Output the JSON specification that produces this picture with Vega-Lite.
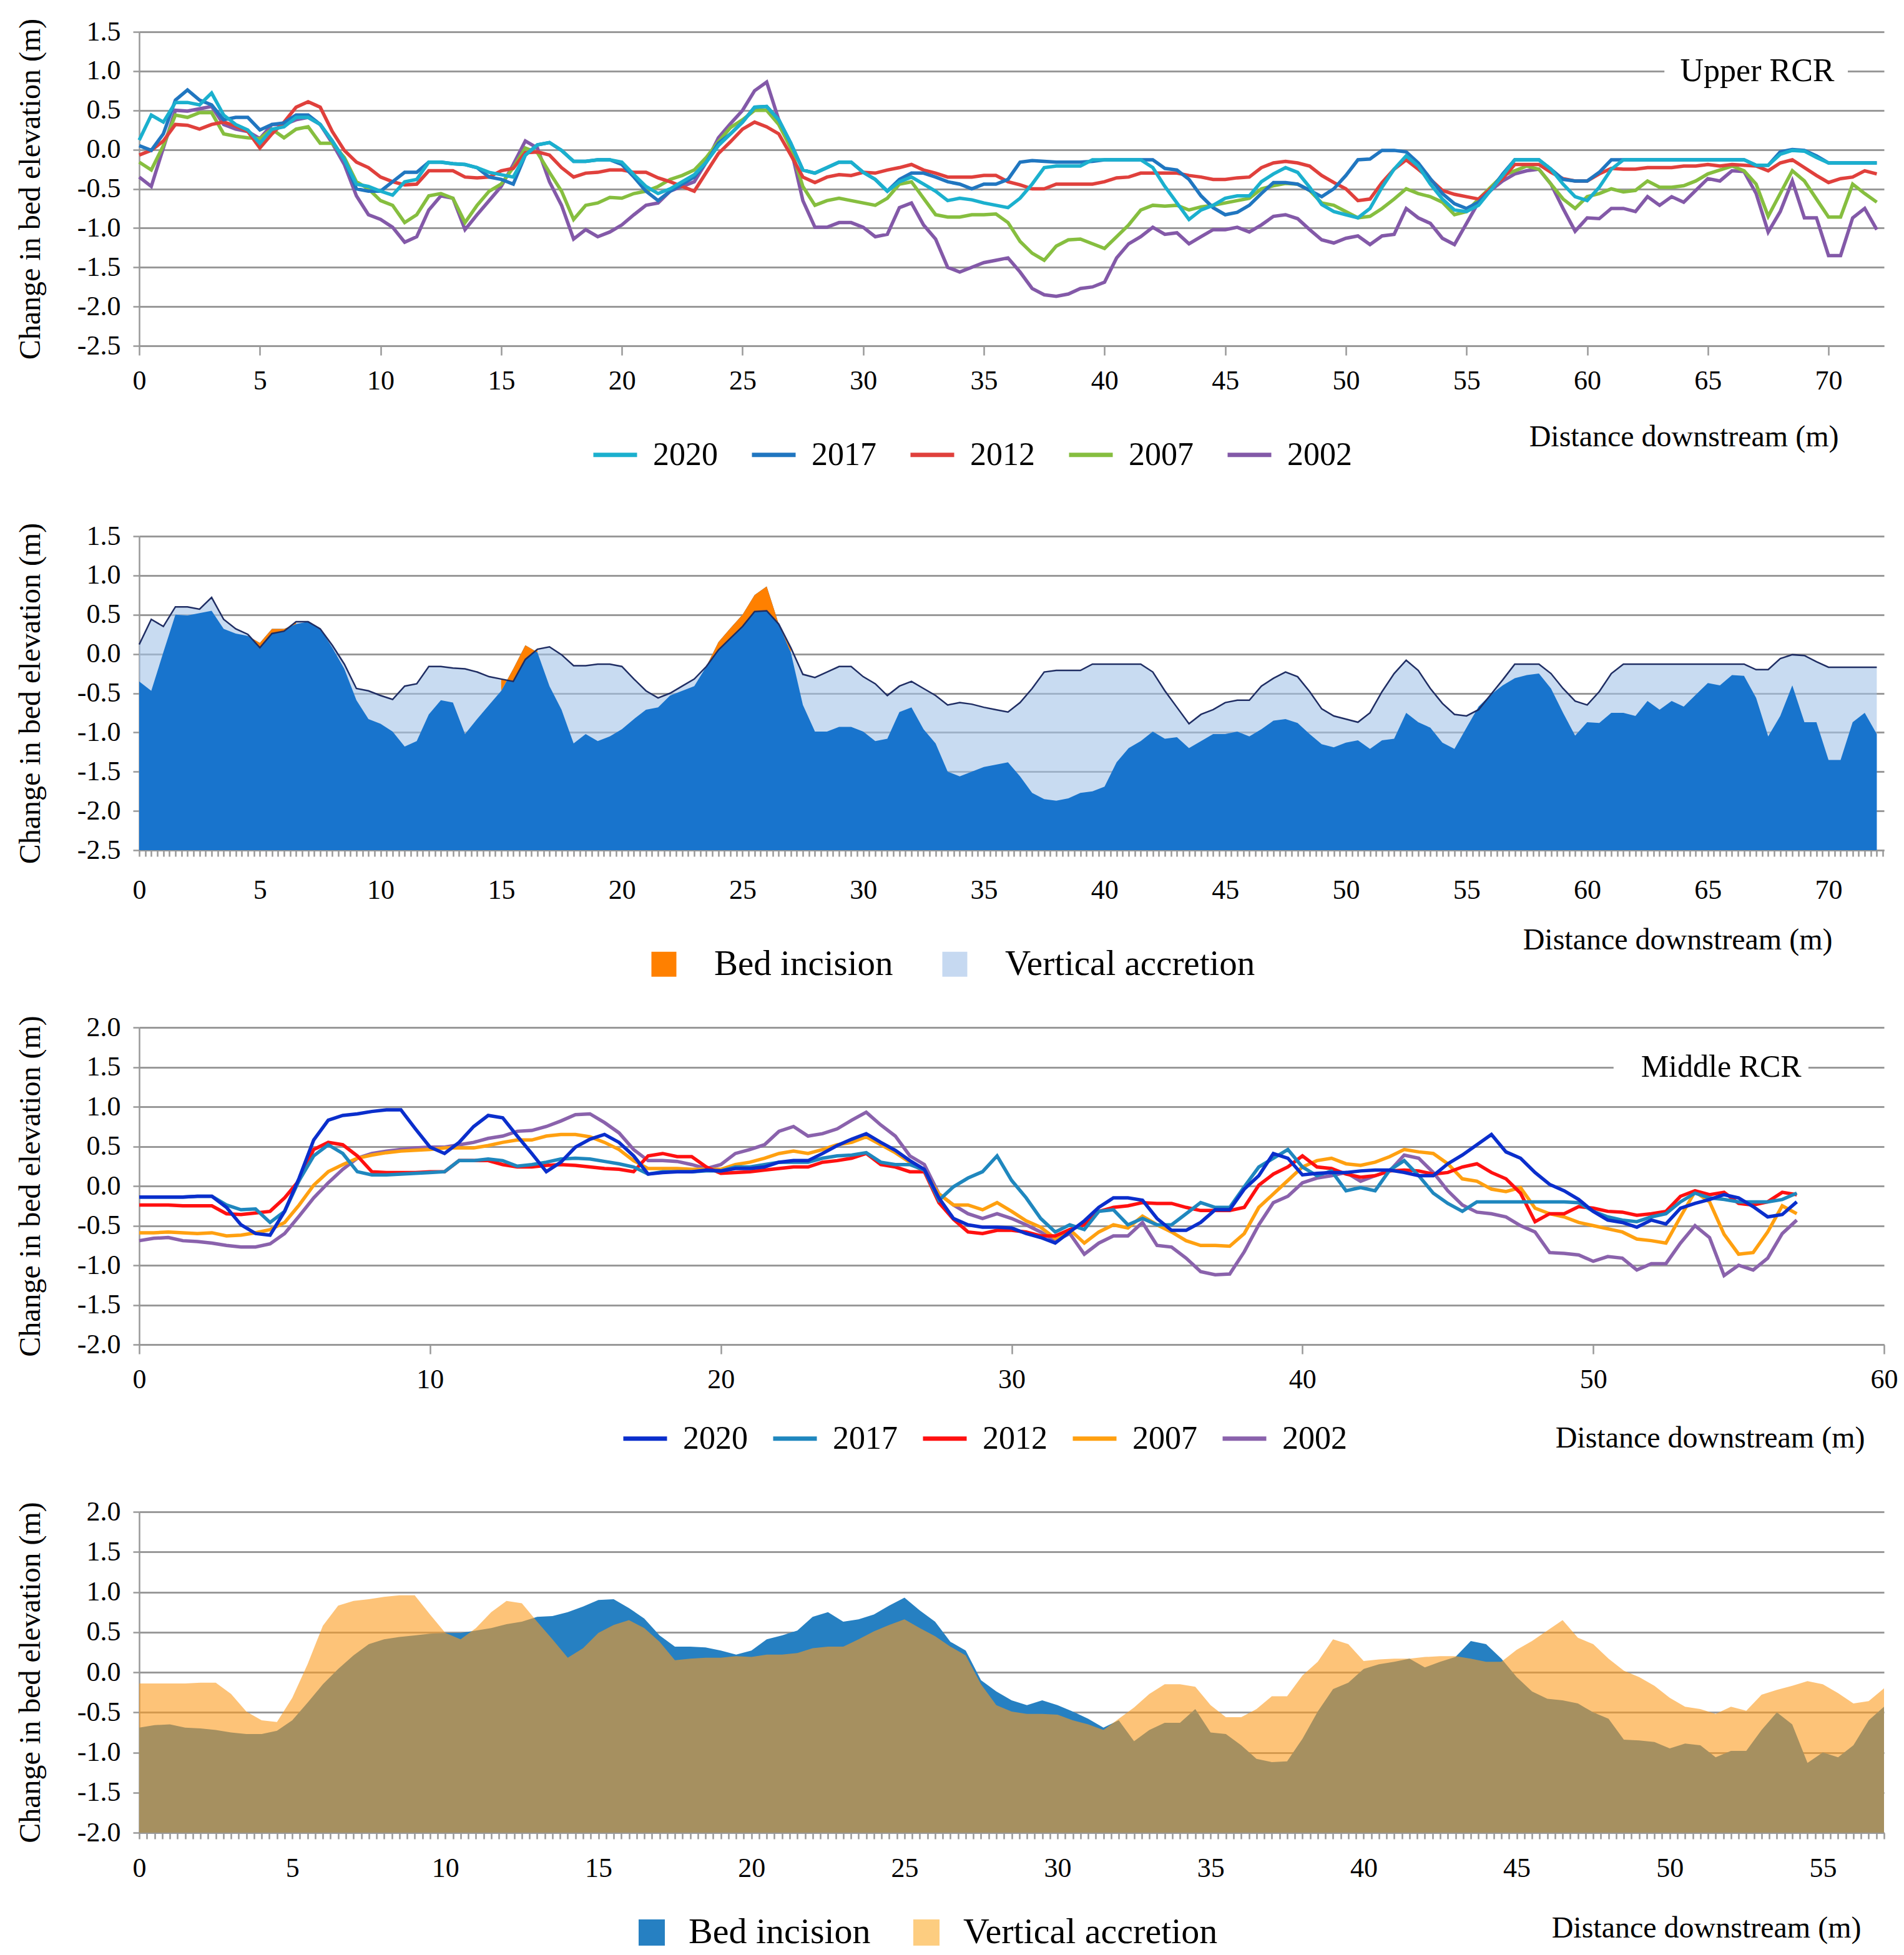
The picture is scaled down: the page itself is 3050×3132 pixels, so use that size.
{
  "$schema": "https://vega.github.io/schema/vega-lite/v6.json",
  "background": "white",
  "padding": {"left": 25, "top": 29, "right": 10, "bottom": 10},
  "config": {
    "font": "Liberation Serif",
    "view": {"stroke": null},
    "text": {"font": "Liberation Serif"},
    "axis": {
      "labelFont": "Liberation Serif", "titleFont": "Liberation Serif",
      "labelFontSize": 44, "titleFontSize": 48, "titleFontWeight": "normal",
      "labelColor": "black", "titleColor": "black",
      "domainColor": "#999999", "domainWidth": 2.5,
      "tickColor": "#999999", "tickWidth": 2.5,
      "gridColor": "#999999", "gridWidth": 3
    },
    "axisX": {"labelFont": "Liberation Serif", "titleFont": "Liberation Serif"},
    "axisY": {"labelFont": "Liberation Serif", "titleFont": "Liberation Serif"},
    "legend": {"labelFont": "Liberation Serif", "titleFont": "Liberation Serif", "labelColor": "black", "labelLimit": 1000}
  },
  "resolve": {"scale": {"color": "independent"}, "legend": {"color": "independent"}},
  "datasets": {
    "upper": [
      {"x":0,"2020":0.12,"2017":0.05,"2012":-0.07,"2007":-0.16,"2002":-0.35},
      {"x":0.5,"2020":0.44,"2017":-0.01,"2012":-0.01,"2007":-0.26,"2002":-0.47},
      {"x":1,"2020":0.35,"2017":0.2,"2012":0.11,"2007":0.05,"2002":0.02},
      {"x":1.5,"2020":0.6,"2017":0.63,"2012":0.32,"2007":0.44,"2002":0.5},
      {"x":2,"2020":0.6,"2017":0.76,"2012":0.31,"2007":0.41,"2002":0.49},
      {"x":2.5,"2020":0.57,"2017":0.63,"2012":0.26,"2007":0.47,"2002":0.52},
      {"x":3,"2020":0.72,"2017":0.57,"2012":0.32,"2007":0.47,"2002":0.55},
      {"x":3.5,"2020":0.44,"2017":0.38,"2012":0.35,"2007":0.2,"2002":0.32},
      {"x":4,"2020":0.32,"2017":0.41,"2012":0.3,"2007":0.17,"2002":0.26},
      {"x":4.5,"2020":0.25,"2017":0.41,"2012":0.23,"2007":0.15,"2002":0.23},
      {"x":5,"2020":0.08,"2017":0.25,"2012":0.02,"2007":0.14,"2002":0.14},
      {"x":5.5,"2020":0.26,"2017":0.32,"2012":0.2,"2007":0.26,"2002":0.32},
      {"x":6,"2020":0.29,"2017":0.34,"2012":0.35,"2007":0.15,"2002":0.32},
      {"x":6.5,"2020":0.41,"2017":0.44,"2012":0.54,"2007":0.26,"2002":0.38},
      {"x":7,"2020":0.41,"2017":0.44,"2012":0.61,"2007":0.29,"2002":0.41},
      {"x":7.5,"2020":0.32,"2017":0.32,"2012":0.54,"2007":0.08,"2002":0.32},
      {"x":8,"2020":0.11,"2017":0.11,"2012":0.23,"2007":0.08,"2002":0.08},
      {"x":8.5,"2020":-0.13,"2017":-0.13,"2012":-0.01,"2007":-0.1,"2002":-0.19},
      {"x":9,"2020":-0.44,"2017":-0.5,"2012":-0.16,"2007":-0.41,"2002":-0.59},
      {"x":9.5,"2020":-0.47,"2017":-0.53,"2012":-0.23,"2007":-0.5,"2002":-0.83},
      {"x":10,"2020":-0.53,"2017":-0.53,"2012":-0.35,"2007":-0.65,"2002":-0.89},
      {"x":10.5,"2020":-0.58,"2017":-0.41,"2012":-0.41,"2007":-0.71,"2002":-0.99},
      {"x":11,"2020":-0.41,"2017":-0.29,"2012":-0.45,"2007":-0.93,"2002":-1.18},
      {"x":11.5,"2020":-0.38,"2017":-0.29,"2012":-0.44,"2007":-0.83,"2002":-1.11},
      {"x":12,"2020":-0.16,"2017":-0.16,"2012":-0.27,"2007":-0.59,"2002":-0.77},
      {"x":12.5,"2020":-0.16,"2017":-0.16,"2012":-0.27,"2007":-0.56,"2002":-0.59},
      {"x":13,"2020":-0.18,"2017":-0.18,"2012":-0.27,"2007":-0.62,"2002":-0.62},
      {"x":13.5,"2020":-0.19,"2017":-0.19,"2012":-0.35,"2007":-0.93,"2002":-1.02},
      {"x":14,"2020":-0.23,"2017":-0.23,"2012":-0.36,"2007":-0.71,"2002":-0.83},
      {"x":14.5,"2020":-0.29,"2017":-0.35,"2012":-0.35,"2007":-0.53,"2002":-0.65},
      {"x":15,"2020":-0.32,"2017":-0.38,"2012":-0.27,"2007":-0.44,"2002":-0.47},
      {"x":15.5,"2020":-0.35,"2017":-0.44,"2012":-0.24,"2007":-0.23,"2002":-0.19},
      {"x":16,"2020":-0.07,"2017":-0.07,"2012":-0.04,"2007":0.02,"2002":0.11},
      {"x":16.5,"2020":0.06,"2017":0.06,"2012":-0.03,"2007":-0.04,"2002":0.02},
      {"x":17,"2020":0.09,"2017":0.09,"2012":-0.07,"2007":-0.29,"2002":-0.41},
      {"x":17.5,"2020":-0.01,"2017":-0.01,"2012":-0.23,"2007":-0.53,"2002":-0.71},
      {"x":18,"2020":-0.15,"2017":-0.15,"2012":-0.35,"2007":-0.89,"2002":-1.14},
      {"x":18.5,"2020":-0.15,"2017":-0.15,"2012":-0.3,"2007":-0.71,"2002":-1.02},
      {"x":19,"2020":-0.13,"2017":-0.13,"2012":-0.29,"2007":-0.68,"2002":-1.11},
      {"x":19.5,"2020":-0.13,"2017":-0.13,"2012":-0.26,"2007":-0.61,"2002":-1.05},
      {"x":20,"2020":-0.16,"2017":-0.19,"2012":-0.26,"2007":-0.62,"2002":-0.96},
      {"x":20.5,"2020":-0.32,"2017":-0.35,"2012":-0.29,"2007":-0.56,"2002":-0.83},
      {"x":21,"2020":-0.47,"2017":-0.53,"2012":-0.29,"2007":-0.53,"2002":-0.71},
      {"x":21.5,"2020":-0.56,"2017":-0.65,"2012":-0.36,"2007":-0.47,"2002":-0.68},
      {"x":22,"2020":-0.5,"2017":-0.53,"2012":-0.41,"2007":-0.38,"2002":-0.53},
      {"x":22.5,"2020":-0.41,"2017":-0.44,"2012":-0.47,"2007":-0.33,"2002":-0.47},
      {"x":23,"2020":-0.32,"2017":-0.35,"2012":-0.53,"2007":-0.26,"2002":-0.41},
      {"x":23.5,"2020":-0.16,"2017":-0.16,"2012":-0.29,"2007":-0.1,"2002":-0.16},
      {"x":24,"2020":0.05,"2017":0.08,"2012":-0.05,"2007":0.1,"2002":0.15},
      {"x":24.5,"2020":0.2,"2017":0.2,"2012":0.1,"2007":0.28,"2002":0.33},
      {"x":25,"2020":0.35,"2017":0.35,"2012":0.26,"2007":0.38,"2002":0.5},
      {"x":25.5,"2020":0.54,"2017":0.54,"2012":0.35,"2007":0.5,"2002":0.75},
      {"x":26,"2020":0.55,"2017":0.55,"2012":0.29,"2007":0.5,"2002":0.86},
      {"x":26.5,"2020":0.38,"2017":0.38,"2012":0.2,"2007":0.32,"2002":0.38},
      {"x":27,"2020":0.08,"2017":0.08,"2012":-0.07,"2007":0.02,"2002":0.02},
      {"x":27.5,"2020":-0.26,"2017":-0.26,"2012":-0.35,"2007":-0.47,"2002":-0.65},
      {"x":28,"2020":-0.3,"2017":-0.3,"2012":-0.42,"2007":-0.71,"2002":-0.99},
      {"x":28.5,"2020":-0.23,"2017":-0.23,"2012":-0.35,"2007":-0.65,"2002":-0.99},
      {"x":29,"2020":-0.16,"2017":-0.16,"2012":-0.32,"2007":-0.62,"2002":-0.93},
      {"x":29.5,"2020":-0.16,"2017":-0.16,"2012":-0.33,"2007":-0.65,"2002":-0.93},
      {"x":30,"2020":-0.29,"2017":-0.29,"2012":-0.29,"2007":-0.68,"2002":-0.99},
      {"x":30.5,"2020":-0.38,"2017":-0.38,"2012":-0.3,"2007":-0.71,"2002":-1.11},
      {"x":31,"2020":-0.53,"2017":-0.53,"2012":-0.26,"2007":-0.62,"2002":-1.08},
      {"x":31.5,"2020":-0.41,"2017":-0.38,"2012":-0.23,"2007":-0.44,"2002":-0.74},
      {"x":32,"2020":-0.35,"2017":-0.3,"2012":-0.19,"2007":-0.41,"2002":-0.68},
      {"x":32.5,"2020":-0.44,"2017":-0.3,"2012":-0.26,"2007":-0.62,"2002":-0.96},
      {"x":33,"2020":-0.53,"2017":-0.35,"2012":-0.3,"2007":-0.83,"2002":-1.14},
      {"x":33.5,"2020":-0.65,"2017":-0.41,"2012":-0.35,"2007":-0.86,"2002":-1.5},
      {"x":34,"2020":-0.62,"2017":-0.44,"2012":-0.35,"2007":-0.86,"2002":-1.56},
      {"x":34.5,"2020":-0.64,"2017":-0.5,"2012":-0.35,"2007":-0.83,"2002":-1.5},
      {"x":35,"2020":-0.68,"2017":-0.44,"2012":-0.33,"2007":-0.83,"2002":-1.44},
      {"x":35.5,"2020":-0.71,"2017":-0.44,"2012":-0.33,"2007":-0.82,"2002":-1.41},
      {"x":36,"2020":-0.74,"2017":-0.38,"2012":-0.41,"2007":-0.93,"2002":-1.38},
      {"x":36.5,"2020":-0.62,"2017":-0.16,"2012":-0.45,"2007":-1.17,"2002":-1.56},
      {"x":37,"2020":-0.44,"2017":-0.14,"2012":-0.5,"2007":-1.32,"2002":-1.77},
      {"x":37.5,"2020":-0.23,"2017":-0.15,"2012":-0.5,"2007":-1.41,"2002":-1.85},
      {"x":38,"2020":-0.21,"2017":-0.16,"2012":-0.44,"2007":-1.23,"2002":-1.87},
      {"x":38.5,"2020":-0.21,"2017":-0.16,"2012":-0.44,"2007":-1.15,"2002":-1.84},
      {"x":39,"2020":-0.21,"2017":-0.16,"2012":-0.44,"2007":-1.14,"2002":-1.77},
      {"x":39.5,"2020":-0.13,"2017":-0.15,"2012":-0.44,"2007":-1.2,"2002":-1.75},
      {"x":40,"2020":-0.13,"2017":-0.13,"2012":-0.41,"2007":-1.26,"2002":-1.69},
      {"x":40.5,"2020":-0.13,"2017":-0.13,"2012":-0.36,"2007":-1.11,"2002":-1.38},
      {"x":41,"2020":-0.13,"2017":-0.13,"2012":-0.35,"2007":-0.96,"2002":-1.2},
      {"x":41.5,"2020":-0.13,"2017":-0.13,"2012":-0.3,"2007":-0.77,"2002":-1.11},
      {"x":42,"2020":-0.23,"2017":-0.13,"2012":-0.3,"2007":-0.71,"2002":-0.99},
      {"x":42.5,"2020":-0.47,"2017":-0.24,"2012":-0.3,"2007":-0.72,"2002":-1.08},
      {"x":43,"2020":-0.68,"2017":-0.26,"2012":-0.3,"2007":-0.71,"2002":-1.06},
      {"x":43.5,"2020":-0.89,"2017":-0.38,"2012":-0.33,"2007":-0.77,"2002":-1.2},
      {"x":44,"2020":-0.77,"2017":-0.59,"2012":-0.35,"2007":-0.73,"2002":-1.11},
      {"x":44.5,"2020":-0.71,"2017":-0.74,"2012":-0.38,"2007":-0.71,"2002":-1.02},
      {"x":45,"2020":-0.62,"2017":-0.83,"2012":-0.38,"2007":-0.68,"2002":-1.02},
      {"x":45.5,"2020":-0.59,"2017":-0.8,"2012":-0.36,"2007":-0.65,"2002":-0.99},
      {"x":46,"2020":-0.59,"2017":-0.71,"2012":-0.35,"2007":-0.62,"2002":-1.05},
      {"x":46.5,"2020":-0.41,"2017":-0.56,"2012":-0.23,"2007":-0.5,"2002":-0.96},
      {"x":47,"2020":-0.31,"2017":-0.42,"2012":-0.17,"2007":-0.46,"2002":-0.85},
      {"x":47.5,"2020":-0.23,"2017":-0.42,"2012":-0.15,"2007":-0.43,"2002":-0.83},
      {"x":48,"2020":-0.29,"2017":-0.44,"2012":-0.17,"2007":-0.44,"2002":-0.88},
      {"x":48.5,"2020":-0.48,"2017":-0.52,"2012":-0.21,"2007":-0.52,"2002":-1.02},
      {"x":49,"2020":-0.7,"2017":-0.6,"2012":-0.33,"2007":-0.68,"2002":-1.15},
      {"x":49.5,"2020":-0.79,"2017":-0.5,"2012":-0.42,"2007":-0.71,"2002":-1.19},
      {"x":50,"2020":-0.83,"2017":-0.33,"2012":-0.5,"2007":-0.79,"2002":-1.13},
      {"x":50.5,"2020":-0.87,"2017":-0.13,"2012":-0.65,"2007":-0.87,"2002":-1.1},
      {"x":51,"2020":-0.75,"2017":-0.12,"2012":-0.63,"2007":-0.85,"2002":-1.21},
      {"x":51.5,"2020":-0.48,"2017":-0.01,"2012":-0.42,"2007":-0.75,"2002":-1.1},
      {"x":52,"2020":-0.25,"2017":-0.01,"2012":-0.25,"2007":-0.63,"2002":-1.08},
      {"x":52.5,"2020":-0.08,"2017":-0.03,"2012":-0.13,"2007":-0.5,"2002":-0.75},
      {"x":53,"2020":-0.21,"2017":-0.17,"2012":-0.25,"2007":-0.56,"2002":-0.87},
      {"x":53.5,"2020":-0.44,"2017":-0.37,"2012":-0.38,"2007":-0.6,"2002":-0.94},
      {"x":54,"2020":-0.63,"2017":-0.56,"2012":-0.52,"2007":-0.67,"2002":-1.13},
      {"x":54.5,"2020":-0.77,"2017":-0.69,"2012":-0.57,"2007":-0.83,"2002":-1.21},
      {"x":55,"2020":-0.79,"2017":-0.75,"2012":-0.6,"2007":-0.79,"2002":-0.94},
      {"x":55.5,"2020":-0.71,"2017":-0.67,"2012":-0.63,"2007":-0.63,"2002":-0.67},
      {"x":56,"2020":-0.52,"2017":-0.52,"2012":-0.5,"2007":-0.48,"2002":-0.52},
      {"x":56.5,"2020":-0.33,"2017":-0.31,"2012":-0.37,"2007":-0.33,"2002":-0.4},
      {"x":57,"2020":-0.13,"2017":-0.13,"2012":-0.19,"2007":-0.27,"2002":-0.31},
      {"x":57.5,"2020":-0.13,"2017":-0.13,"2012":-0.19,"2007":-0.21,"2002":-0.27},
      {"x":58,"2020":-0.13,"2017":-0.13,"2012":-0.19,"2007":-0.25,"2002":-0.25},
      {"x":58.5,"2020":-0.25,"2017":-0.25,"2012":-0.29,"2007":-0.44,"2002":-0.44},
      {"x":59,"2020":-0.44,"2017":-0.38,"2012":-0.37,"2007":-0.63,"2002":-0.75},
      {"x":59.5,"2020":-0.6,"2017":-0.4,"2012":-0.4,"2007":-0.75,"2002":-1.04},
      {"x":60,"2020":-0.65,"2017":-0.4,"2012":-0.4,"2007":-0.6,"2002":-0.87},
      {"x":60.5,"2020":-0.48,"2017":-0.29,"2012":-0.31,"2007":-0.56,"2002":-0.88},
      {"x":61,"2020":-0.25,"2017":-0.13,"2012":-0.24,"2007":-0.5,"2002":-0.75},
      {"x":61.5,"2020":-0.13,"2017":-0.13,"2012":-0.25,"2007":-0.54,"2002":-0.75},
      {"x":62,"2020":-0.13,"2017":-0.13,"2012":-0.25,"2007":-0.52,"2002":-0.79},
      {"x":62.5,"2020":-0.13,"2017":-0.13,"2012":-0.23,"2007":-0.4,"2002":-0.6},
      {"x":63,"2020":-0.13,"2017":-0.13,"2012":-0.23,"2007":-0.48,"2002":-0.71},
      {"x":63.5,"2020":-0.13,"2017":-0.13,"2012":-0.23,"2007":-0.48,"2002":-0.6},
      {"x":64,"2020":-0.13,"2017":-0.13,"2012":-0.21,"2007":-0.46,"2002":-0.67},
      {"x":64.5,"2020":-0.13,"2017":-0.13,"2012":-0.21,"2007":-0.4,"2002":-0.52},
      {"x":65,"2020":-0.13,"2017":-0.13,"2012":-0.19,"2007":-0.31,"2002":-0.37},
      {"x":65.5,"2020":-0.13,"2017":-0.13,"2012":-0.21,"2007":-0.26,"2002":-0.4},
      {"x":66,"2020":-0.13,"2017":-0.13,"2012":-0.19,"2007":-0.21,"2002":-0.27},
      {"x":66.5,"2020":-0.13,"2017":-0.13,"2012":-0.2,"2007":-0.27,"2002":-0.28},
      {"x":67,"2020":-0.2,"2017":-0.2,"2012":-0.21,"2007":-0.44,"2002":-0.56},
      {"x":67.5,"2020":-0.2,"2017":-0.2,"2012":-0.27,"2007":-0.85,"2002":-1.05},
      {"x":68,"2020":-0.06,"2017":-0.03,"2012":-0.17,"2007":-0.56,"2002":-0.79},
      {"x":68.5,"2020":-0.01,"2017":0,"2012":-0.13,"2007":-0.27,"2002":-0.4},
      {"x":69,"2020":-0.02,"2017":-0.01,"2012":-0.23,"2007":-0.4,"2002":-0.87},
      {"x":69.5,"2020":-0.1,"2017":-0.08,"2012":-0.33,"2007":-0.63,"2002":-0.87},
      {"x":70,"2020":-0.17,"2017":-0.17,"2012":-0.42,"2007":-0.86,"2002":-1.35},
      {"x":70.5,"2020":-0.17,"2017":-0.17,"2012":-0.37,"2007":-0.86,"2002":-1.35},
      {"x":71,"2020":-0.17,"2017":-0.17,"2012":-0.35,"2007":-0.44,"2002":-0.87},
      {"x":71.5,"2020":-0.17,"2017":-0.17,"2012":-0.27,"2007":-0.56,"2002":-0.75},
      {"x":72,"2020":-0.17,"2017":-0.17,"2012":-0.31,"2007":-0.67,"2002":-1.02}
    ],
    "middle": [
      {"x":0,"2020":-0.14,"2017":-0.14,"2012":-0.24,"2007":-0.59,"2002":-0.69},
      {"x":0.5,"2020":-0.14,"2017":-0.14,"2012":-0.24,"2007":-0.59,"2002":-0.66},
      {"x":1,"2020":-0.14,"2017":-0.14,"2012":-0.24,"2007":-0.58,"2002":-0.65},
      {"x":1.5,"2020":-0.14,"2017":-0.14,"2012":-0.25,"2007":-0.59,"2002":-0.69},
      {"x":2,"2020":-0.13,"2017":-0.13,"2012":-0.25,"2007":-0.6,"2002":-0.7},
      {"x":2.5,"2020":-0.13,"2017":-0.13,"2012":-0.25,"2007":-0.59,"2002":-0.72},
      {"x":3,"2020":-0.27,"2017":-0.24,"2012":-0.35,"2007":-0.63,"2002":-0.75},
      {"x":3.5,"2020":-0.49,"2017":-0.3,"2012":-0.36,"2007":-0.62,"2002":-0.77},
      {"x":4,"2020":-0.6,"2017":-0.29,"2012":-0.34,"2007":-0.59,"2002":-0.77},
      {"x":4.5,"2020":-0.62,"2017":-0.46,"2012":-0.32,"2007":-0.55,"2002":-0.73},
      {"x":5,"2020":-0.32,"2017":-0.32,"2012":-0.15,"2007":-0.46,"2002":-0.6},
      {"x":5.5,"2020":0.1,"2017":0.07,"2012":0.07,"2007":-0.24,"2002":-0.38},
      {"x":6,"2020":0.58,"2017":0.38,"2012":0.46,"2007":0.01,"2002":-0.15},
      {"x":6.5,"2020":0.83,"2017":0.52,"2012":0.55,"2007":0.18,"2002":0.04},
      {"x":7,"2020":0.89,"2017":0.41,"2012":0.52,"2007":0.27,"2002":0.21},
      {"x":7.5,"2020":0.91,"2017":0.18,"2012":0.38,"2007":0.35,"2002":0.35},
      {"x":8,"2020":0.94,"2017":0.14,"2012":0.18,"2007":0.39,"2002":0.41},
      {"x":8.5,"2020":0.96,"2017":0.14,"2012":0.17,"2007":0.42,"2002":0.44},
      {"x":9,"2020":0.96,"2017":0.15,"2012":0.17,"2007":0.44,"2002":0.46},
      {"x":9.5,"2020":0.72,"2017":0.16,"2012":0.17,"2007":0.45,"2002":0.48},
      {"x":10,"2020":0.49,"2017":0.17,"2012":0.18,"2007":0.46,"2002":0.49},
      {"x":10.5,"2020":0.41,"2017":0.18,"2012":0.18,"2007":0.48,"2002":0.49},
      {"x":11,"2020":0.55,"2017":0.32,"2012":0.32,"2007":0.48,"2002":0.52},
      {"x":11.5,"2020":0.75,"2017":0.32,"2012":0.32,"2007":0.48,"2002":0.55},
      {"x":12,"2020":0.89,"2017":0.34,"2012":0.32,"2007":0.51,"2002":0.6},
      {"x":12.5,"2020":0.86,"2017":0.32,"2012":0.27,"2007":0.55,"2002":0.63},
      {"x":13,"2020":0.63,"2017":0.25,"2012":0.24,"2007":0.58,"2002":0.69},
      {"x":13.5,"2020":0.41,"2017":0.27,"2012":0.24,"2007":0.58,"2002":0.7},
      {"x":14,"2020":0.18,"2017":0.3,"2012":0.26,"2007":0.63,"2002":0.75},
      {"x":14.5,"2020":0.3,"2017":0.34,"2012":0.27,"2007":0.65,"2002":0.82},
      {"x":15,"2020":0.49,"2017":0.35,"2012":0.26,"2007":0.65,"2002":0.9},
      {"x":15.5,"2020":0.59,"2017":0.34,"2012":0.24,"2007":0.62,"2002":0.91},
      {"x":16,"2020":0.65,"2017":0.31,"2012":0.22,"2007":0.55,"2002":0.8},
      {"x":16.5,"2020":0.55,"2017":0.28,"2012":0.21,"2007":0.46,"2002":0.67},
      {"x":17,"2020":0.38,"2017":0.24,"2012":0.18,"2007":0.32,"2002":0.46},
      {"x":17.5,"2020":0.15,"2017":0.15,"2012":0.38,"2007":0.22,"2002":0.32},
      {"x":18,"2020":0.17,"2017":0.18,"2012":0.41,"2007":0.22,"2002":0.32},
      {"x":18.5,"2020":0.18,"2017":0.18,"2012":0.37,"2007":0.22,"2002":0.31},
      {"x":19,"2020":0.18,"2017":0.18,"2012":0.37,"2007":0.21,"2002":0.27},
      {"x":19.5,"2020":0.2,"2017":0.19,"2012":0.24,"2007":0.21,"2002":0.22},
      {"x":20,"2020":0.19,"2017":0.19,"2012":0.16,"2007":0.21,"2002":0.27},
      {"x":20.5,"2020":0.22,"2017":0.24,"2012":0.17,"2007":0.27,"2002":0.41},
      {"x":21,"2020":0.22,"2017":0.24,"2012":0.18,"2007":0.3,"2002":0.46},
      {"x":21.5,"2020":0.24,"2017":0.27,"2012":0.2,"2007":0.35,"2002":0.52},
      {"x":22,"2020":0.3,"2017":0.3,"2012":0.22,"2007":0.41,"2002":0.69},
      {"x":22.5,"2020":0.32,"2017":0.3,"2012":0.24,"2007":0.44,"2002":0.75},
      {"x":23,"2020":0.32,"2017":0.3,"2012":0.24,"2007":0.41,"2002":0.63},
      {"x":23.5,"2020":0.41,"2017":0.35,"2012":0.3,"2007":0.46,"2002":0.66},
      {"x":24,"2020":0.51,"2017":0.38,"2012":0.32,"2007":0.52,"2002":0.72},
      {"x":24.5,"2020":0.59,"2017":0.39,"2012":0.35,"2007":0.55,"2002":0.83},
      {"x":25,"2020":0.66,"2017":0.42,"2012":0.41,"2007":0.62,"2002":0.93},
      {"x":25.5,"2020":0.55,"2017":0.3,"2012":0.27,"2007":0.52,"2002":0.77},
      {"x":26,"2020":0.45,"2017":0.27,"2012":0.24,"2007":0.42,"2002":0.63},
      {"x":26.5,"2020":0.32,"2017":0.27,"2012":0.18,"2007":0.3,"2002":0.38},
      {"x":27,"2020":0.21,"2017":0.2,"2012":0.18,"2007":0.18,"2002":0.27},
      {"x":27.5,"2020":-0.15,"2017":-0.18,"2012":-0.21,"2007":-0.1,"2002":-0.1},
      {"x":28,"2020":-0.41,"2017":-0.01,"2012":-0.42,"2007":-0.24,"2002":-0.24},
      {"x":28.5,"2020":-0.49,"2017":0.1,"2012":-0.58,"2007":-0.24,"2002":-0.35},
      {"x":29,"2020":-0.52,"2017":0.18,"2012":-0.6,"2007":-0.3,"2002":-0.41},
      {"x":29.5,"2020":-0.52,"2017":0.38,"2012":-0.56,"2007":-0.21,"2002":-0.35},
      {"x":30,"2020":-0.53,"2017":0.07,"2012":-0.56,"2007":-0.32,"2002":-0.41},
      {"x":30.5,"2020":-0.6,"2017":-0.15,"2012":-0.58,"2007":-0.44,"2002":-0.49},
      {"x":31,"2020":-0.65,"2017":-0.41,"2012":-0.63,"2007":-0.52,"2002":-0.58},
      {"x":31.5,"2020":-0.72,"2017":-0.58,"2012":-0.63,"2007":-0.66,"2002":-0.69},
      {"x":32,"2020":-0.58,"2017":-0.49,"2012":-0.55,"2007":-0.55,"2002":-0.6},
      {"x":32.5,"2020":-0.44,"2017":-0.55,"2012":-0.49,"2007":-0.72,"2002":-0.86},
      {"x":33,"2020":-0.27,"2017":-0.32,"2012":-0.32,"2007":-0.58,"2002":-0.72},
      {"x":33.5,"2020":-0.15,"2017":-0.3,"2012":-0.27,"2007":-0.49,"2002":-0.63},
      {"x":34,"2020":-0.15,"2017":-0.49,"2012":-0.25,"2007":-0.53,"2002":-0.63},
      {"x":34.5,"2020":-0.18,"2017":-0.41,"2012":-0.21,"2007":-0.38,"2002":-0.46},
      {"x":35,"2020":-0.41,"2017":-0.49,"2012":-0.22,"2007":-0.49,"2002":-0.75},
      {"x":35.5,"2020":-0.56,"2017":-0.49,"2012":-0.22,"2007":-0.58,"2002":-0.77},
      {"x":36,"2020":-0.56,"2017":-0.35,"2012":-0.27,"2007":-0.69,"2002":-0.91},
      {"x":36.5,"2020":-0.46,"2017":-0.21,"2012":-0.31,"2007":-0.75,"2002":-1.08},
      {"x":37,"2020":-0.3,"2017":-0.27,"2012":-0.31,"2007":-0.75,"2002":-1.12},
      {"x":37.5,"2020":-0.3,"2017":-0.27,"2012":-0.31,"2007":-0.76,"2002":-1.11},
      {"x":38,"2020":-0.04,"2017":-0.01,"2012":-0.27,"2007":-0.6,"2002":-0.83},
      {"x":38.5,"2020":0.13,"2017":0.24,"2012":0.01,"2007":-0.27,"2002":-0.49},
      {"x":39,"2020":0.41,"2017":0.35,"2012":0.15,"2007":-0.1,"2002":-0.21},
      {"x":39.5,"2020":0.35,"2017":0.46,"2012":0.24,"2007":0.07,"2002":-0.13},
      {"x":40,"2020":0.14,"2017":0.24,"2012":0.38,"2007":0.24,"2002":0.04},
      {"x":40.5,"2020":0.16,"2017":0.13,"2012":0.24,"2007":0.32,"2002":0.1},
      {"x":41,"2020":0.17,"2017":0.19,"2012":0.22,"2007":0.35,"2002":0.13},
      {"x":41.5,"2020":0.17,"2017":-0.06,"2012":0.15,"2007":0.28,"2002":0.17},
      {"x":42,"2020":0.19,"2017":-0.02,"2012":0.11,"2007":0.26,"2002":0.06},
      {"x":42.5,"2020":0.2,"2017":-0.06,"2012":0.13,"2007":0.3,"2002":0.13},
      {"x":43,"2020":0.2,"2017":0.2,"2012":0.19,"2007":0.37,"2002":0.19},
      {"x":43.5,"2020":0.17,"2017":0.32,"2012":0.2,"2007":0.46,"2002":0.39},
      {"x":44,"2020":0.13,"2017":0.13,"2012":0.19,"2007":0.43,"2002":0.35},
      {"x":44.5,"2020":0.13,"2017":-0.09,"2012":0.15,"2007":0.41,"2002":0.17},
      {"x":45,"2020":0.28,"2017":-0.22,"2012":0.17,"2007":0.28,"2002":-0.06},
      {"x":45.5,"2020":0.39,"2017":-0.32,"2012":0.24,"2007":0.09,"2002":-0.24},
      {"x":46,"2020":0.52,"2017":-0.2,"2012":0.28,"2007":0.06,"2002":-0.33},
      {"x":46.5,"2020":0.65,"2017":-0.2,"2012":0.17,"2007":-0.04,"2002":-0.35},
      {"x":47,"2020":0.43,"2017":-0.2,"2012":0.09,"2007":-0.07,"2002":-0.39},
      {"x":47.5,"2020":0.35,"2017":-0.2,"2012":-0.09,"2007":-0.02,"2002":-0.5},
      {"x":48,"2020":0.17,"2017":-0.2,"2012":-0.45,"2007":-0.28,"2002":-0.58},
      {"x":48.5,"2020":0.02,"2017":-0.2,"2012":-0.35,"2007":-0.35,"2002":-0.84},
      {"x":49,"2020":-0.06,"2017":-0.2,"2012":-0.35,"2007":-0.39,"2002":-0.85},
      {"x":49.5,"2020":-0.17,"2017":-0.21,"2012":-0.26,"2007":-0.46,"2002":-0.87},
      {"x":50,"2020":-0.32,"2017":-0.32,"2012":-0.28,"2007":-0.5,"2002":-0.95},
      {"x":50.5,"2020":-0.43,"2017":-0.39,"2012":-0.32,"2007":-0.54,"2002":-0.89},
      {"x":51,"2020":-0.46,"2017":-0.43,"2012":-0.33,"2007":-0.58,"2002":-0.91},
      {"x":51.5,"2020":-0.52,"2017":-0.45,"2012":-0.37,"2007":-0.67,"2002":-1.06},
      {"x":52,"2020":-0.43,"2017":-0.39,"2012":-0.35,"2007":-0.69,"2002":-0.98},
      {"x":52.5,"2020":-0.48,"2017":-0.35,"2012":-0.32,"2007":-0.72,"2002":-0.98},
      {"x":53,"2020":-0.28,"2017":-0.2,"2012":-0.13,"2007":-0.39,"2002":-0.72},
      {"x":53.5,"2020":-0.22,"2017":-0.09,"2012":-0.06,"2007":-0.07,"2002":-0.5},
      {"x":54,"2020":-0.17,"2017":-0.15,"2012":-0.11,"2007":-0.2,"2002":-0.65},
      {"x":54.5,"2020":-0.11,"2017":-0.17,"2012":-0.08,"2007":-0.61,"2002":-1.13},
      {"x":55,"2020":-0.15,"2017":-0.2,"2012":-0.22,"2007":-0.86,"2002":-1.0},
      {"x":55.5,"2020":-0.26,"2017":-0.2,"2012":-0.24,"2007":-0.84,"2002":-1.06},
      {"x":56,"2020":-0.39,"2017":-0.2,"2012":-0.2,"2007":-0.58,"2002":-0.91},
      {"x":56.5,"2020":-0.36,"2017":-0.17,"2012":-0.08,"2007":-0.25,"2002":-0.6},
      {"x":57,"2020":-0.2,"2017":-0.09,"2012":-0.11,"2007":-0.35,"2002":-0.43}
    ]
  },
  "vconcat": [
    {
      "width": 2795,
      "height": 503,
      "data": {"name": "upper"},
      "layer": [
        {
          "transform": [{"fold": ["2002", "2007", "2012", "2017", "2020"], "as": ["series", "value"]}],
          "mark": {"type": "line", "strokeWidth": 5.5},
          "encoding": {
            "x": {
              "field": "x", "type": "quantitative",
              "scale": {"domain": [0, 72.3], "nice": false, "zero": false},
              "axis": {
                "values": [0, 5, 10, 15, 20, 25, 30, 35, 40, 45, 50, 55, 60, 65, 70],
                "format": "d", "tickSize": 15, "labelPadding": 19, "labelFlush": false, "grid": false,
                "labelFont": "Liberation Serif", "titleFont": "Liberation Serif",
                "title": "Distance downstream (m)", "titleX": 2722, "titleY": 146,
                "titleAlign": "right", "titleBaseline": "middle"
              }
            },
            "y": {
              "field": "value", "type": "quantitative",
              "scale": {"domain": [-2.5, 1.5], "nice": false},
              "axis": {
                "values": [-2.5, -2, -1.5, -1, -0.5, 0, 0.5, 1, 1.5],
                "labelExpr": "replace(format(datum.value, '.1f'), '\u2212', '-')",
                "tickSize": 10, "labelPadding": 20, "grid": true,
                "labelFont": "Liberation Serif", "titleFont": "Liberation Serif",
                "title": "Change in bed elevation (m)", "titlePadding": 50
              }
            },
            "color": {
              "field": "series", "type": "nominal",
              "scale": {"domain": ["2020", "2017", "2012", "2007", "2002"], "range": ["#1BB0CE", "#2076C0", "#E0403C", "#86BE3F", "#8359A8"]},
              "legend": {
                "orient": "none", "legendX": 724, "legendY": 639, "direction": "horizontal", "title": null,
                "symbolType": "stroke", "symbolSize": 4900, "symbolStrokeWidth": 7,
                "labelFont": "Liberation Serif", "labelFontSize": 52, "labelOffset": 22, "columnPadding": 40
              }
            }
          }
        },
        {
          "data": {"values": [{"label": "Upper RCR"}]},
          "mark": {"type": "rect", "color": "white"},
          "encoding": {
            "x": {"datum": 63.2}, "x2": {"datum": 70.8},
            "y": {"datum": 0.93}, "y2": {"datum": 1.07}
          }
        },
        {
          "data": {"values": [{"label": "Upper RCR"}]},
          "mark": {"type": "text", "fontSize": 52, "font": "Liberation Serif", "color": "black", "align": "center", "baseline": "middle"},
          "encoding": {
            "x": {"datum": 67.05}, "y": {"datum": 1.0},
            "text": {"field": "label"}
          }
        }
      ]
    },
    {
      "width": 2795,
      "height": 540,
      "data": {"name": "upper"},
      "encoding": {
        "x": {
          "field": "x", "type": "quantitative",
          "scale": {"domain": [0, 72.3], "nice": false, "zero": false},
          "axis": {
            "values": [0,0.25,0.5,0.75,1,1.25,1.5,1.75,2,2.25,2.5,2.75,3,3.25,3.5,3.75,4,4.25,4.5,4.75,5,5.25,5.5,5.75,6,6.25,6.5,6.75,7,7.25,7.5,7.75,8,8.25,8.5,8.75,9,9.25,9.5,9.75,10,10.25,10.5,10.75,11,11.25,11.5,11.75,12,12.25,12.5,12.75,13,13.25,13.5,13.75,14,14.25,14.5,14.75,15,15.25,15.5,15.75,16,16.25,16.5,16.75,17,17.25,17.5,17.75,18,18.25,18.5,18.75,19,19.25,19.5,19.75,20,20.25,20.5,20.75,21,21.25,21.5,21.75,22,22.25,22.5,22.75,23,23.25,23.5,23.75,24,24.25,24.5,24.75,25,25.25,25.5,25.75,26,26.25,26.5,26.75,27,27.25,27.5,27.75,28,28.25,28.5,28.75,29,29.25,29.5,29.75,30,30.25,30.5,30.75,31,31.25,31.5,31.75,32,32.25,32.5,32.75,33,33.25,33.5,33.75,34,34.25,34.5,34.75,35,35.25,35.5,35.75,36,36.25,36.5,36.75,37,37.25,37.5,37.75,38,38.25,38.5,38.75,39,39.25,39.5,39.75,40,40.25,40.5,40.75,41,41.25,41.5,41.75,42,42.25,42.5,42.75,43,43.25,43.5,43.75,44,44.25,44.5,44.75,45,45.25,45.5,45.75,46,46.25,46.5,46.75,47,47.25,47.5,47.75,48,48.25,48.5,48.75,49,49.25,49.5,49.75,50,50.25,50.5,50.75,51,51.25,51.5,51.75,52,52.25,52.5,52.75,53,53.25,53.5,53.75,54,54.25,54.5,54.75,55,55.25,55.5,55.75,56,56.25,56.5,56.75,57,57.25,57.5,57.75,58,58.25,58.5,58.75,59,59.25,59.5,59.75,60,60.25,60.5,60.75,61,61.25,61.5,61.75,62,62.25,62.5,62.75,63,63.25,63.5,63.75,64,64.25,64.5,64.75,65,65.25,65.5,65.75,66,66.25,66.5,66.75,67,67.25,67.5,67.75,68,68.25,68.5,68.75,69,69.25,69.5,69.75,70,70.25,70.5,70.75,71,71.25,71.5,71.75,72,72.25],
            "labelExpr": "datum.value % 5 === 0 ? format(datum.value, 'd') : ''",
            "labelOverlap": false, "labelFlush": false, "tickSize": 10, "labelPadding": 32, "grid": false,
            "labelFont": "Liberation Serif", "titleFont": "Liberation Serif",
            "title": "Distance downstream (m)", "titleX": 2712, "titleY": 144,
            "titleAlign": "right", "titleBaseline": "middle"
          }
        }
      },
      "layer": [
        {
          "mark": {"type": "area", "color": "#A3C3E8", "opacity": 0.6},
          "encoding": {
            "y": {
              "field": "2020", "type": "quantitative",
              "scale": {"domain": [-2.5, 1.5], "range": [540, 37], "nice": false},
              "axis": {
                "values": [-2.5, -2, -1.5, -1, -0.5, 0, 0.5, 1, 1.5],
                "labelExpr": "replace(format(datum.value, '.1f'), '\u2212', '-')",
                "tickSize": 10, "labelPadding": 20, "grid": true,
                "labelFont": "Liberation Serif", "titleFont": "Liberation Serif",
                "title": "Change in bed elevation (m)", "titlePadding": 50
              }
            },
            "y2": {"datum": -2.5}
          }
        },
        {
          "mark": {"type": "area", "color": "#1874CD"},
          "encoding": {
            "y": {"field": "2002", "type": "quantitative", "scale": {"domain": [-2.5, 1.5], "range": [540, 37], "nice": false}, "axis": {"title": "Change in bed elevation (m)"}},
            "y2": {"datum": -2.5}
          }
        },
        {
          "transform": [{"filter": "datum.x >= 4.5 && datum.x <= 6.5"}],
          "mark": {"type": "area"},
          "encoding": {
            "y": {"field": "2002", "type": "quantitative", "scale": {"domain": [-2.5, 1.5], "range": [540, 37], "nice": false}, "axis": {"title": "Change in bed elevation (m)"}},
            "y2": {"field": "2020"},
            "color": {
              "datum": "Bed incision",
              "scale": {"domain": ["Bed incision", "Vertical accretion"], "range": ["#FF8000", "#C6D9F1"]},
              "legend": {
                "orient": "none", "legendX": 812, "legendY": 694, "direction": "horizontal", "title": null,
                "symbolType": "square", "symbolSize": 1600, "symbolStrokeWidth": 0,
                "labelFont": "Liberation Serif", "labelFontSize": 57, "labelOffset": 52, "columnPadding": 70, "labelLimit": 1000
              }
            }
          }
        },
        {
          "transform": [{"filter": "datum.x >= 15 && datum.x <= 16.5"}],
          "mark": {"type": "area"},
          "encoding": {
            "y": {"field": "2002", "type": "quantitative", "scale": {"domain": [-2.5, 1.5], "range": [540, 37], "nice": false}, "axis": {"title": "Change in bed elevation (m)"}},
            "y2": {"field": "2020"},
            "color": {
              "datum": "Bed incision",
              "scale": {"domain": ["Bed incision", "Vertical accretion"], "range": ["#FF8000", "#C6D9F1"]}
            }
          }
        },
        {
          "transform": [{"filter": "datum.x >= 23.5 && datum.x <= 27"}],
          "mark": {"type": "area"},
          "encoding": {
            "y": {"field": "2002", "type": "quantitative", "scale": {"domain": [-2.5, 1.5], "range": [540, 37], "nice": false}, "axis": {"title": "Change in bed elevation (m)"}},
            "y2": {"field": "2020"},
            "color": {
              "datum": "Bed incision",
              "scale": {"domain": ["Bed incision", "Vertical accretion"], "range": ["#FF8000", "#C6D9F1"]}
            }
          }
        },
        {
          "mark": {"type": "line", "color": "#1F2D63", "strokeWidth": 2.5},
          "encoding": {
            "y": {"field": "2020", "type": "quantitative", "scale": {"domain": [-2.5, 1.5], "range": [540, 37], "nice": false}, "axis": {"title": "Change in bed elevation (m)"}}
          }
        }
      ]
    },
    {
      "width": 2795,
      "height": 524,
      "data": {"name": "middle"},
      "layer": [
        {
          "transform": [{"fold": ["2002", "2007", "2012", "2017", "2020"], "as": ["series", "value"]}],
          "mark": {"type": "line", "strokeWidth": 5.5},
          "encoding": {
            "x": {
              "field": "x", "type": "quantitative",
              "scale": {"domain": [0, 60], "nice": false, "zero": false},
              "axis": {
                "values": [0, 10, 20, 30, 40, 50, 60],
                "format": "d", "tickSize": 15, "labelPadding": 19, "labelFlush": false, "grid": false,
                "labelFont": "Liberation Serif", "titleFont": "Liberation Serif",
                "title": "Distance downstream (m)", "titleX": 2764, "titleY": 150,
                "titleAlign": "right", "titleBaseline": "middle"
              }
            },
            "y": {
              "field": "value", "type": "quantitative",
              "scale": {"domain": [-2, 2], "range": [524, 16], "nice": false},
              "axis": {
                "values": [-2, -1.5, -1, -0.5, 0, 0.5, 1, 1.5, 2],
                "labelExpr": "replace(format(datum.value, '.1f'), '\u2212', '-')",
                "tickSize": 10, "labelPadding": 20, "grid": true,
                "labelFont": "Liberation Serif", "titleFont": "Liberation Serif",
                "title": "Change in bed elevation (m)", "titlePadding": 50
              }
            },
            "color": {
              "field": "series", "type": "nominal",
              "scale": {"domain": ["2020", "2017", "2012", "2007", "2002"], "range": ["#0A2ECC", "#1F87BE", "#FF1010", "#FFA010", "#8A62AC"]},
              "legend": {
                "orient": "none", "legendX": 772, "legendY": 636, "direction": "horizontal", "title": null,
                "symbolType": "stroke", "symbolSize": 4900, "symbolStrokeWidth": 7,
                "labelFont": "Liberation Serif", "labelFontSize": 52, "labelOffset": 22, "columnPadding": 26
              }
            }
          }
        },
        {
          "data": {"values": [{"label": "Middle RCR"}]},
          "mark": {"type": "rect", "color": "white"},
          "encoding": {
            "x": {"datum": 50.7}, "x2": {"datum": 57.4},
            "y": {"datum": 1.43}, "y2": {"datum": 1.57}
          }
        },
        {
          "data": {"values": [{"label": "Middle RCR"}]},
          "mark": {"type": "text", "fontSize": 50, "font": "Liberation Serif", "color": "black", "align": "center", "baseline": "middle"},
          "encoding": {
            "x": {"datum": 54.4}, "y": {"datum": 1.5},
            "text": {"field": "label"}
          }
        }
      ]
    },
    {
      "width": 2795,
      "height": 514,
      "data": {"name": "middle"},
      "encoding": {
        "x": {
          "field": "x", "type": "quantitative",
          "scale": {"domain": [0, 57], "nice": false, "zero": false},
          "axis": {
            "values": [0,0.25,0.5,0.75,1,1.25,1.5,1.75,2,2.25,2.5,2.75,3,3.25,3.5,3.75,4,4.25,4.5,4.75,5,5.25,5.5,5.75,6,6.25,6.5,6.75,7,7.25,7.5,7.75,8,8.25,8.5,8.75,9,9.25,9.5,9.75,10,10.25,10.5,10.75,11,11.25,11.5,11.75,12,12.25,12.5,12.75,13,13.25,13.5,13.75,14,14.25,14.5,14.75,15,15.25,15.5,15.75,16,16.25,16.5,16.75,17,17.25,17.5,17.75,18,18.25,18.5,18.75,19,19.25,19.5,19.75,20,20.25,20.5,20.75,21,21.25,21.5,21.75,22,22.25,22.5,22.75,23,23.25,23.5,23.75,24,24.25,24.5,24.75,25,25.25,25.5,25.75,26,26.25,26.5,26.75,27,27.25,27.5,27.75,28,28.25,28.5,28.75,29,29.25,29.5,29.75,30,30.25,30.5,30.75,31,31.25,31.5,31.75,32,32.25,32.5,32.75,33,33.25,33.5,33.75,34,34.25,34.5,34.75,35,35.25,35.5,35.75,36,36.25,36.5,36.75,37,37.25,37.5,37.75,38,38.25,38.5,38.75,39,39.25,39.5,39.75,40,40.25,40.5,40.75,41,41.25,41.5,41.75,42,42.25,42.5,42.75,43,43.25,43.5,43.75,44,44.25,44.5,44.75,45,45.25,45.5,45.75,46,46.25,46.5,46.75,47,47.25,47.5,47.75,48,48.25,48.5,48.75,49,49.25,49.5,49.75,50,50.25,50.5,50.75,51,51.25,51.5,51.75,52,52.25,52.5,52.75,53,53.25,53.5,53.75,54,54.25,54.5,54.75,55,55.25,55.5,55.75,56,56.25,56.5,56.75,57],
            "labelExpr": "datum.value % 5 === 0 ? format(datum.value, 'd') : ''",
            "labelOverlap": false, "labelFlush": false, "tickSize": 10, "labelPadding": 25, "grid": false,
            "labelFont": "Liberation Serif", "titleFont": "Liberation Serif",
            "title": "Distance downstream (m)", "titleX": 2758, "titleY": 153,
            "titleAlign": "right", "titleBaseline": "middle"
          }
        }
      },
      "layer": [
        {
          "mark": {"type": "area"},
          "encoding": {
            "y": {
              "field": "2002", "type": "quantitative",
              "scale": {"domain": [-2, 2], "nice": false},
              "axis": {
                "values": [-2, -1.5, -1, -0.5, 0, 0.5, 1, 1.5, 2],
                "labelExpr": "replace(format(datum.value, '.1f'), '\u2212', '-')",
                "tickSize": 10, "labelPadding": 20, "grid": true,
                "labelFont": "Liberation Serif", "titleFont": "Liberation Serif",
                "title": "Change in bed elevation (m)", "titlePadding": 50
              }
            },
            "y2": {"datum": -2},
            "color": {
              "datum": "Bed incision",
              "scale": {"domain": ["Bed incision", "Vertical accretion"], "range": ["#2680C2", "#FDCD80"]},
              "legend": {
                "orient": "none", "legendX": 792, "legendY": 645, "direction": "horizontal", "title": null,
                "symbolType": "square", "symbolSize": 1764, "symbolStrokeWidth": 0,
                "labelFont": "Liberation Serif", "labelFontSize": 58, "labelOffset": 30, "columnPadding": 60, "labelLimit": 1000
              }
            }
          }
        },
        {
          "mark": {"type": "area", "color": "#FC9B1E", "opacity": 0.6},
          "encoding": {
            "y": {"field": "2020", "type": "quantitative", "scale": {"domain": [-2, 2], "nice": false}, "axis": {"title": "Change in bed elevation (m)"}},
            "y2": {"datum": -2}
          }
        }
      ]
    }
  ],
  "spacing": 268,
  "bounds": "flush"
}
